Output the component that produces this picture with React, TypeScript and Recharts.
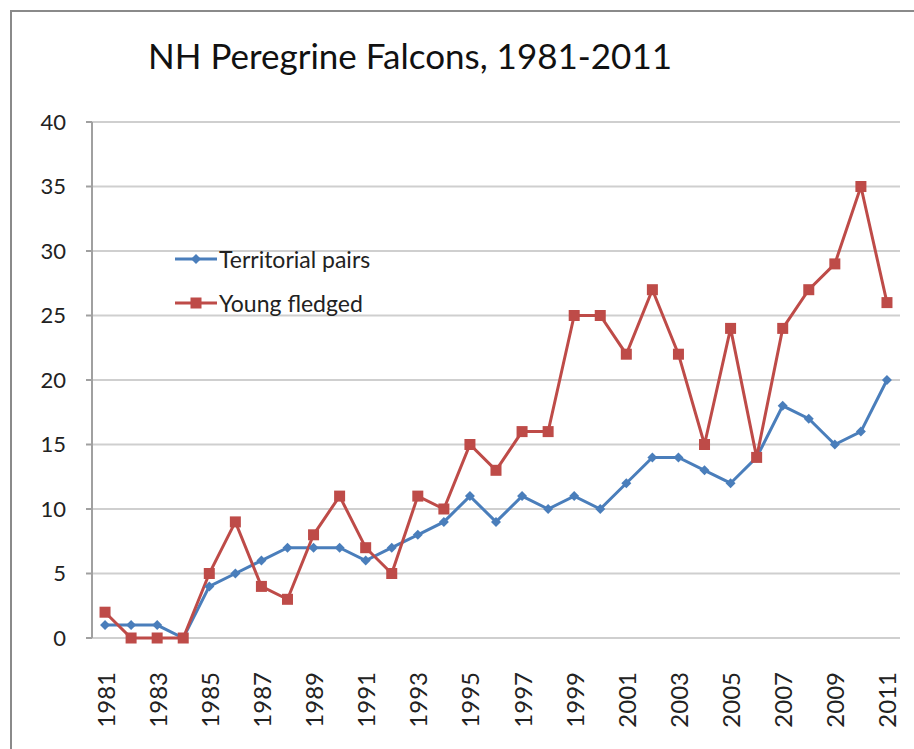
import React from "react"
import { LineChart, Line, XAxis, YAxis, CartesianGrid } from "recharts"

const YEARS = [
  1981, 1982, 1983, 1984, 1985, 1986, 1987, 1988, 1989, 1990,
  1991, 1992, 1993, 1994, 1995, 1996, 1997, 1998, 1999, 2000,
  2001, 2002, 2003, 2004, 2005, 2006, 2007, 2008, 2009, 2010, 2011,
]
const TERRITORIAL_PAIRS = [1, 1, 1, 0, 4, 5, 6, 7, 7, 7, 6, 7, 8, 9, 11, 9, 11, 10, 11, 10, 12, 14, 14, 13, 12, 14, 18, 17, 15, 16, 20]
const YOUNG_FLEDGED = [2, 0, 0, 0, 5, 9, 4, 3, 8, 11, 7, 5, 11, 10, 15, 13, 16, 16, 25, 25, 22, 27, 22, 15, 24, 14, 24, 27, 29, 35, 26]
const LABEL_YEARS = [1981, 1983, 1985, 1987, 1989, 1991, 1993, 1995, 1997, 1999, 2001, 2003, 2005, 2007, 2009, 2011]
const Y_TICKS = [0, 5, 10, 15, 20, 25, 30, 35, 40]

const BLUE = "#4a7ebb"
const RED = "#be4b48"
const FONT = "Lato, 'Open Sans', sans-serif"

const data = YEARS.map((year, i) => ({
  year,
  pairs: TERRITORIAL_PAIRS[i],
  young: YOUNG_FLEDGED[i],
}))

// tick marks sit between categories, like the original spreadsheet chart
const BETWEEN_TICKS = [...YEARS.map((y) => y - 0.5), YEARS[YEARS.length - 1] + 0.5]

function Diamond({ cx, cy }: any) {
  if (cx == null || cy == null) return null
  const r = 5
  return <polygon points={`${cx},${cy - r} ${cx + r},${cy} ${cx},${cy + r} ${cx - r},${cy}`} fill={BLUE} />
}

function Square({ cx, cy }: any) {
  if (cx == null || cy == null) return null
  const s = 11
  return <rect x={cx - s / 2} y={cy - s / 2} width={s} height={s} fill={RED} />
}

function YearTick({ x, y, payload }: any) {
  const ty = y + 26
  return (
    <text
      x={x}
      y={ty}
      transform={`rotate(-90, ${x}, ${ty})`}
      textAnchor="end"
      dominantBaseline="central"
      fontSize={24}
      fontFamily={FONT}
      fill="#222"
    >
      {payload.value}
    </text>
  )
}

function LegendBox() {
  const items = [
    { label: "Territorial pairs", color: BLUE, shape: "diamond" },
    { label: "Young fledged", color: RED, shape: "square" },
  ]
  return (
    <div style={{ position: "absolute", left: 175, top: 237, fontFamily: FONT, fontSize: 23, color: "#222" }}>
      {items.map((it) => (
        <div key={it.label} style={{ display: "flex", alignItems: "center", height: 44 }}>
          <svg width={42} height={14} style={{ marginRight: 2 }}>
            <line x1={0} y1={7} x2={42} y2={7} stroke={it.color} strokeWidth={3} />
            {it.shape === "diamond" ? (
              <polygon points="21,2 26,7 21,12 16,7" fill={it.color} />
            ) : (
              <rect x={15.5} y={1.5} width={11} height={11} fill={it.color} />
            )}
          </svg>
          <span>{it.label}</span>
        </div>
      ))}
    </div>
  )
}

export default function App() {
  return (
    <div style={{ position: "absolute", left: 0, top: 0, width: 914, height: 749, overflow: "hidden", background: "#fff" }}>
      <div
        style={{
          position: "absolute", left: 10, top: 10, width: 1000, height: 800,
          borderLeft: "2px solid #8a8a8a", borderTop: "2px solid #8a8a8a",
        }}
      />
      <div
        style={{
          position: "absolute", left: 148, top: 34, fontFamily: FONT, fontSize: 35,
          color: "#111", whiteSpace: "nowrap",
        }}
      >
        NH Peregrine Falcons, 1981-2011
      </div>
      <div style={{ position: "absolute", left: 0, top: 0 }}>
        <LineChart width={914} height={749} data={data} margin={{ top: 122, right: 14, left: 0, bottom: 0 }}>
          <CartesianGrid vertical={false} stroke="#cfcfcf" strokeWidth={2} />
          <XAxis
            xAxisId="marks"
            dataKey="year"
            type="number"
            domain={[1980.5, 2011.5]}
            ticks={BETWEEN_TICKS}
            tick={false}
            tickSize={10}
            height={0}
            stroke="#a0a0a0"
            strokeWidth={2}
            allowDataOverflow
          />
          <XAxis
            xAxisId="labels"
            dataKey="year"
            type="number"
            domain={[1980.5, 2011.5]}
            ticks={LABEL_YEARS}
            interval={0}
            tick={<YearTick />}
            tickLine={false}
            axisLine={false}
            height={111}
            allowDataOverflow
          />
          <YAxis
            domain={[0, 40]}
            ticks={Y_TICKS}
            width={92}
            tickSize={6}
            tickMargin={20}
            stroke="#a0a0a0"
            strokeWidth={2}
            tick={{ fontSize: 22, fontFamily: FONT, fill: "#222" }}
          />
          <Line
            xAxisId="labels"
            dataKey="pairs"
            name="Territorial pairs"
            stroke={BLUE}
            strokeWidth={3}
            dot={<Diamond />}
            activeDot={false}
            isAnimationActive={false}
          />
          <Line
            xAxisId="labels"
            dataKey="young"
            name="Young fledged"
            stroke={RED}
            strokeWidth={3}
            dot={<Square />}
            activeDot={false}
            isAnimationActive={false}
          />
        </LineChart>
      </div>
      <LegendBox />
    </div>
  )
}
